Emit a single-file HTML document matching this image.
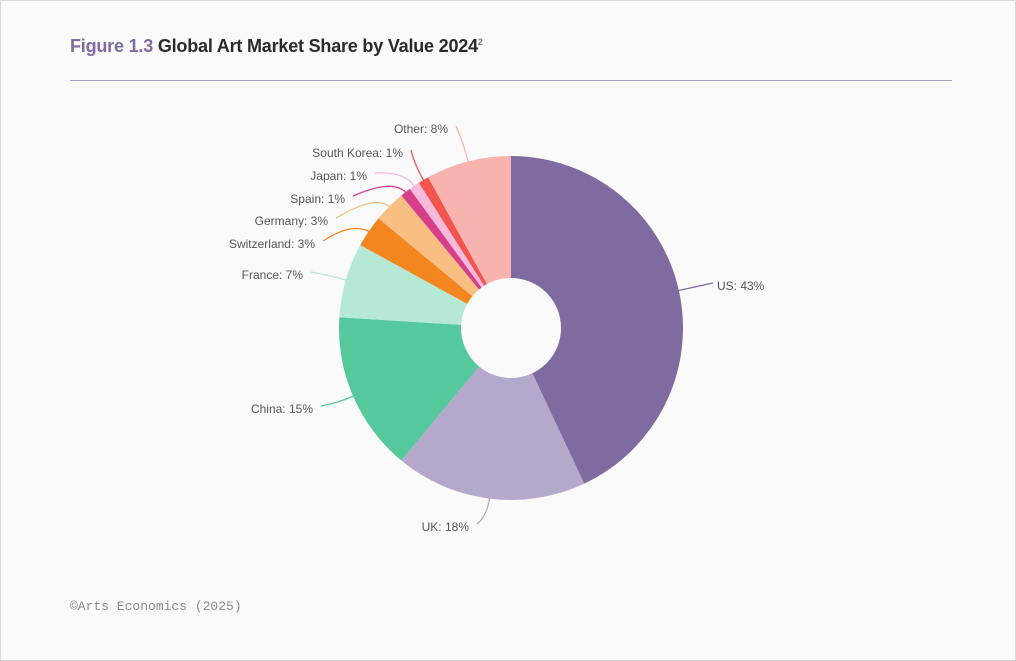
<!DOCTYPE html>
<html><head><meta charset="utf-8"><style>
body{margin:0;background:#fff;}
#wrap{position:relative;width:1014px;height:659px;border:1px solid #d8d8d8;background:#fafafa;font-family:"Liberation Sans",sans-serif;overflow:hidden}
#title{position:absolute;left:69px;top:35px;font-size:18px;font-weight:bold;color:#2a2a2a;letter-spacing:-0.2px}
#title span.f{color:#7e6ca0}
#title sup{font-size:9px;color:#7e6ca0}
#rule{position:absolute;left:69px;top:79px;width:882px;height:1px;background:#a9a0c8}
#foot{position:absolute;left:69px;top:598px;font-family:"Liberation Mono",monospace;font-size:13px;color:#8a8a8a}
svg{position:absolute;left:0;top:0}
</style></head><body>
<div id="wrap">
<div id="title"><span class="f">Figure 1.3</span> Global Art Market Share by Value 2024<sup>2</sup></div>
<div id="rule"></div>
<svg id="chart" width="1014" height="659"></svg>
<div id="foot">©Arts Economics (2025)</div>
</div>
<script>
const categories=["US","UK","China","France","Switzerland","Germany","Spain","Japan","South Korea","Other"];
const values=[43,18,15,7,3,3,1,1,1,8];
const colors=["#7e6ca0","#b5a9cb","#56c89e","#b6e8d6","#f4861f","#f9bf82","#d6408b","#f9b9dc","#f2554f","#f9b3ae"];
const labelAnchors=[[716,285,"start"],[468,526,"end"],[312,408,"end"],[302,274,"end"],[314,243,"end"],[327,220,"end"],[344,198,"end"],[366,175,"end"],[402,152,"end"],[447,128,"end"]];
const svg=document.getElementById('chart');
const NS="http://www.w3.org/2000/svg";
const cx=510,cy=327,R=172,r=50;
const total=values.reduce((a,b)=>a+b,0);
function pt(a,rad){return [cx+rad*Math.sin(a),cy-rad*Math.cos(a)];}
let acc=0;
values.forEach((v,i)=>{
  const a0=acc/total*2*Math.PI; acc+=v; const a1=acc/total*2*Math.PI;
  const large=(a1-a0)>Math.PI?1:0;
  const p0=pt(a0,R),p1=pt(a1,R),q1=pt(a1,r),q0=pt(a0,r);
  const p=document.createElementNS(NS,'path');
  p.setAttribute('d',`M${p0[0]},${p0[1]}A${R},${R} 0 ${large} 1 ${p1[0]},${p1[1]}L${q1[0]},${q1[1]}A${r},${r} 0 ${large} 0 ${q0[0]},${q0[1]}Z`);
  p.setAttribute('fill',colors[i]);
  
  
  svg.appendChild(p);
  const am=(a0+a1)/2;
  const s=pt(am,R-2), m=pt(am,R+18);
  const la=labelAnchors[i];
  const ex=la[2]==="start"?la[0]-4:la[0]+8, ey=la[1]-3;
  const l=document.createElementNS(NS,'path');
  l.setAttribute('d',`M${s[0]},${s[1]}Q${m[0]},${m[1]} ${ex},${ey}`);
  l.setAttribute('fill','none');l.setAttribute('stroke',colors[i]);l.setAttribute('stroke-width','1.3');
  
  
  svg.appendChild(l);
  const t=document.createElementNS(NS,'text');
  t.setAttribute('x',la[0]);t.setAttribute('y',la[1]+4);t.setAttribute('text-anchor',la[2]);
  t.setAttribute('font-size','12');t.setAttribute('fill','#555');t.setAttribute('font-family','"Liberation Sans",sans-serif');
  t.textContent=categories[i]+": "+v+"%";
  
  
  svg.appendChild(t);
});
</script>
</body></html>
